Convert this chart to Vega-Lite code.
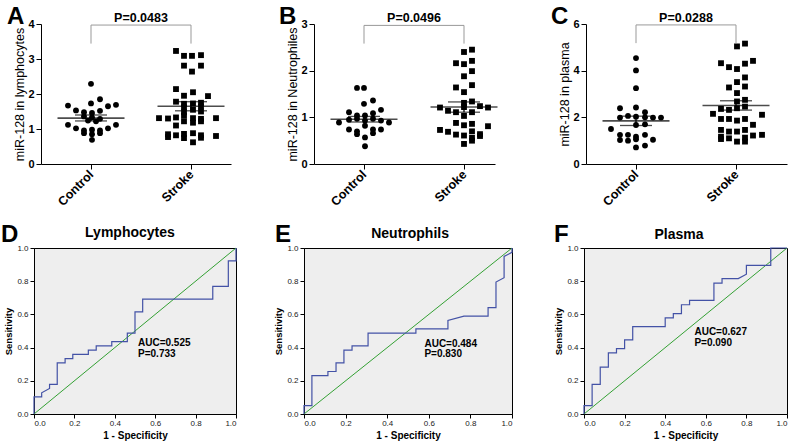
{
"$schema":"https://vega.github.io/schema/vega-lite/v6.json",
"padding":{"left":0,"top":5,"right":0,"bottom":0},
"bounds":"flush",
"spacing":224,
"config":{"view":{"stroke":null},"font":"Liberation Sans","axis":{"grid":false,"labelOverlap":false,"tickCount":12,"domainColor":"black","tickColor":"black","labelColor":"black","titleColor":"black","labelFont":"Liberation Sans","titleFont":"Liberation Sans"},"text":{"font":"Liberation Sans"}},
"datasets":{
"panels":[
{"panel":"A","letter":"A","p":"P=0.0483","top":3.97,"base":3.44},
{"panel":"B","letter":"B","p":"P=0.0496","top":2.97,"base":2.58},
{"panel":"C","letter":"C","p":"P=0.0288","top":5.96,"base":5.18},
{"panel":"D","letter":"D","name":"Lymphocytes"},
{"panel":"E","letter":"E","name":"Neutrophils"},
{"panel":"F","letter":"F","name":"Plasma"}
],
"summary":[
{"panel":"A","group":"Control","idx":1,"mean":1.31,"lo":1.23,"hi":1.40},
{"panel":"A","group":"Stroke","idx":2,"mean":1.65,"lo":1.52,"hi":1.78},
{"panel":"B","group":"Control","idx":1,"mean":0.96,"lo":0.90,"hi":1.02},
{"panel":"B","group":"Stroke","idx":2,"mean":1.22,"lo":1.11,"hi":1.33},
{"panel":"C","group":"Control","idx":1,"mean":1.85,"lo":1.65,"hi":2.05},
{"panel":"C","group":"Stroke","idx":2,"mean":2.51,"lo":2.31,"hi":2.71}
],
"dots":[
{"panel":"A","group":"Control","pos":1.00,"value":2.29},{"panel":"A","group":"Control","pos":1.09,"value":1.85},{"panel":"A","group":"Control","pos":0.77,"value":1.67},{"panel":"A","group":"Control","pos":1.00,"value":1.73},{"panel":"A","group":"Control","pos":1.17,"value":1.65},{"panel":"A","group":"Control","pos":1.25,"value":1.69},{"panel":"A","group":"Control","pos":0.85,"value":1.53},{"panel":"A","group":"Control","pos":0.93,"value":1.48},{"panel":"A","group":"Control","pos":1.01,"value":1.46},{"panel":"A","group":"Control","pos":1.09,"value":1.52},{"panel":"A","group":"Control","pos":0.93,"value":1.36},{"panel":"A","group":"Control","pos":1.01,"value":1.33},{"panel":"A","group":"Control","pos":1.09,"value":1.29},{"panel":"A","group":"Control","pos":0.97,"value":1.24},{"panel":"A","group":"Control","pos":1.05,"value":1.22},{"panel":"A","group":"Control","pos":0.77,"value":1.12},{"panel":"A","group":"Control","pos":0.85,"value":1.02},{"panel":"A","group":"Control","pos":0.93,"value":0.96},{"panel":"A","group":"Control","pos":1.01,"value":0.98},{"panel":"A","group":"Control","pos":1.09,"value":0.96},{"panel":"A","group":"Control","pos":1.17,"value":1.02},{"panel":"A","group":"Control","pos":1.25,"value":1.12},{"panel":"A","group":"Control","pos":0.93,"value":0.88},{"panel":"A","group":"Control","pos":1.09,"value":0.88},{"panel":"A","group":"Control","pos":1.01,"value":0.85},{"panel":"A","group":"Control","pos":1.01,"value":0.69},
{"panel":"A","group":"Stroke","pos":1.85,"value":3.23},{"panel":"A","group":"Stroke","pos":1.93,"value":3.09},{"panel":"A","group":"Stroke","pos":2.01,"value":3.09},{"panel":"A","group":"Stroke","pos":2.10,"value":3.11},{"panel":"A","group":"Stroke","pos":1.93,"value":2.81},{"panel":"A","group":"Stroke","pos":2.10,"value":2.81},{"panel":"A","group":"Stroke","pos":2.01,"value":2.64},
{"panel":"A","group":"Stroke","pos":1.85,"value":2.14},{"panel":"A","group":"Stroke","pos":2.02,"value":2.05},{"panel":"A","group":"Stroke","pos":1.93,"value":1.95},{"panel":"A","group":"Stroke","pos":2.17,"value":1.94},{"panel":"A","group":"Stroke","pos":1.85,"value":1.78},{"panel":"A","group":"Stroke","pos":1.93,"value":1.72},{"panel":"A","group":"Stroke","pos":2.02,"value":1.73},{"panel":"A","group":"Stroke","pos":2.10,"value":1.75},{"panel":"A","group":"Stroke","pos":1.93,"value":1.62},{"panel":"A","group":"Stroke","pos":2.10,"value":1.64},{"panel":"A","group":"Stroke","pos":2.02,"value":1.55},{"panel":"A","group":"Stroke","pos":2.10,"value":1.50},{"panel":"A","group":"Stroke","pos":1.93,"value":1.48},
{"panel":"A","group":"Stroke","pos":1.68,"value":1.31},{"panel":"A","group":"Stroke","pos":1.77,"value":1.30},{"panel":"A","group":"Stroke","pos":1.85,"value":1.33},{"panel":"A","group":"Stroke","pos":1.93,"value":1.38},{"panel":"A","group":"Stroke","pos":2.02,"value":1.31},{"panel":"A","group":"Stroke","pos":2.10,"value":1.29},{"panel":"A","group":"Stroke","pos":2.25,"value":1.31},{"panel":"A","group":"Stroke","pos":1.93,"value":1.22},{"panel":"A","group":"Stroke","pos":2.02,"value":1.18},{"panel":"A","group":"Stroke","pos":2.10,"value":1.22},{"panel":"A","group":"Stroke","pos":1.85,"value":1.10},
{"panel":"A","group":"Stroke","pos":1.77,"value":0.85},{"panel":"A","group":"Stroke","pos":1.85,"value":0.82},{"panel":"A","group":"Stroke","pos":1.93,"value":0.86},{"panel":"A","group":"Stroke","pos":2.02,"value":0.88},{"panel":"A","group":"Stroke","pos":2.10,"value":0.82},{"panel":"A","group":"Stroke","pos":2.25,"value":0.80},{"panel":"A","group":"Stroke","pos":1.77,"value":0.77},{"panel":"A","group":"Stroke","pos":1.93,"value":0.74},{"panel":"A","group":"Stroke","pos":2.10,"value":0.75},{"panel":"A","group":"Stroke","pos":2.02,"value":0.62},
{"panel":"B","group":"Control","pos":0.93,"value":1.63},{"panel":"B","group":"Control","pos":1.00,"value":1.63},{"panel":"B","group":"Control","pos":1.00,"value":1.29},{"panel":"B","group":"Control","pos":1.09,"value":1.36},{"panel":"B","group":"Control","pos":0.85,"value":1.11},{"panel":"B","group":"Control","pos":0.93,"value":1.04},{"panel":"B","group":"Control","pos":1.01,"value":1.04},{"panel":"B","group":"Control","pos":1.09,"value":1.09},{"panel":"B","group":"Control","pos":1.17,"value":1.16},{"panel":"B","group":"Control","pos":0.75,"value":0.89},{"panel":"B","group":"Control","pos":0.85,"value":0.95},{"panel":"B","group":"Control","pos":0.93,"value":0.97},{"panel":"B","group":"Control","pos":1.01,"value":0.93},{"panel":"B","group":"Control","pos":1.09,"value":0.97},{"panel":"B","group":"Control","pos":1.17,"value":0.93},{"panel":"B","group":"Control","pos":1.25,"value":0.89},{"panel":"B","group":"Control","pos":0.85,"value":0.74},{"panel":"B","group":"Control","pos":0.93,"value":0.70},{"panel":"B","group":"Control","pos":1.01,"value":0.82},{"panel":"B","group":"Control","pos":1.09,"value":0.74},{"panel":"B","group":"Control","pos":1.17,"value":0.74},{"panel":"B","group":"Control","pos":0.93,"value":0.64},{"panel":"B","group":"Control","pos":1.09,"value":0.66},{"panel":"B","group":"Control","pos":1.01,"value":0.57},{"panel":"B","group":"Control","pos":1.01,"value":0.38},
{"panel":"B","group":"Stroke","pos":2.00,"value":2.40},{"panel":"B","group":"Stroke","pos":2.08,"value":2.45},{"panel":"B","group":"Stroke","pos":1.92,"value":2.16},{"panel":"B","group":"Stroke","pos":2.00,"value":2.14},{"panel":"B","group":"Stroke","pos":2.08,"value":2.21},{"panel":"B","group":"Stroke","pos":2.00,"value":1.88},{"panel":"B","group":"Stroke","pos":2.08,"value":1.99},{"panel":"B","group":"Stroke","pos":1.92,"value":1.64},{"panel":"B","group":"Stroke","pos":2.00,"value":1.54},{"panel":"B","group":"Stroke","pos":2.08,"value":1.69},{"panel":"B","group":"Stroke","pos":2.00,"value":1.31},{"panel":"B","group":"Stroke","pos":2.08,"value":1.34},{"panel":"B","group":"Stroke","pos":1.76,"value":1.21},{"panel":"B","group":"Stroke","pos":1.84,"value":1.14},{"panel":"B","group":"Stroke","pos":1.92,"value":1.11},{"panel":"B","group":"Stroke","pos":2.00,"value":1.22},{"panel":"B","group":"Stroke","pos":2.08,"value":1.11},{"panel":"B","group":"Stroke","pos":2.16,"value":1.24},{"panel":"B","group":"Stroke","pos":2.24,"value":1.21},{"panel":"B","group":"Stroke","pos":2.00,"value":1.03},{"panel":"B","group":"Stroke","pos":1.92,"value":0.88},{"panel":"B","group":"Stroke","pos":2.00,"value":0.83},{"panel":"B","group":"Stroke","pos":2.08,"value":0.86},{"panel":"B","group":"Stroke","pos":1.76,"value":0.73},{"panel":"B","group":"Stroke","pos":1.84,"value":0.69},{"panel":"B","group":"Stroke","pos":1.92,"value":0.63},{"panel":"B","group":"Stroke","pos":2.00,"value":0.61},{"panel":"B","group":"Stroke","pos":2.08,"value":0.70},{"panel":"B","group":"Stroke","pos":2.16,"value":0.64},{"panel":"B","group":"Stroke","pos":2.24,"value":0.81},{"panel":"B","group":"Stroke","pos":2.08,"value":0.56},{"panel":"B","group":"Stroke","pos":2.16,"value":0.60},{"panel":"B","group":"Stroke","pos":2.00,"value":0.43},{"panel":"B","group":"Stroke","pos":2.08,"value":0.50},
{"panel":"C","group":"Control","pos":1.00,"value":4.54},{"panel":"C","group":"Control","pos":1.00,"value":4.01},{"panel":"C","group":"Control","pos":1.00,"value":3.25},{"panel":"C","group":"Control","pos":0.84,"value":2.39},{"panel":"C","group":"Control","pos":1.00,"value":2.42},{"panel":"C","group":"Control","pos":1.09,"value":2.22},{"panel":"C","group":"Control","pos":0.84,"value":1.99},{"panel":"C","group":"Control","pos":0.92,"value":2.06},{"panel":"C","group":"Control","pos":1.00,"value":2.03},{"panel":"C","group":"Control","pos":1.09,"value":2.00},{"panel":"C","group":"Control","pos":1.17,"value":1.99},{"panel":"C","group":"Control","pos":1.25,"value":1.99},{"panel":"C","group":"Control","pos":1.09,"value":1.70},{"panel":"C","group":"Control","pos":1.00,"value":1.67},{"panel":"C","group":"Control","pos":0.75,"value":1.50},{"panel":"C","group":"Control","pos":0.84,"value":1.25},{"panel":"C","group":"Control","pos":0.92,"value":1.25},{"panel":"C","group":"Control","pos":1.00,"value":1.17},{"panel":"C","group":"Control","pos":1.09,"value":1.25},{"panel":"C","group":"Control","pos":0.84,"value":1.03},{"panel":"C","group":"Control","pos":0.92,"value":1.00},{"panel":"C","group":"Control","pos":1.00,"value":1.06},{"panel":"C","group":"Control","pos":1.17,"value":1.04},{"panel":"C","group":"Control","pos":1.00,"value":0.71},{"panel":"C","group":"Control","pos":1.09,"value":0.79},
{"panel":"C","group":"Stroke","pos":2.01,"value":5.04},{"panel":"C","group":"Stroke","pos":2.09,"value":5.16},{"panel":"C","group":"Stroke","pos":1.85,"value":4.32},{"panel":"C","group":"Stroke","pos":1.93,"value":4.15},{"panel":"C","group":"Stroke","pos":2.01,"value":4.07},{"panel":"C","group":"Stroke","pos":2.09,"value":4.30},{"panel":"C","group":"Stroke","pos":2.17,"value":4.42},{"panel":"C","group":"Stroke","pos":2.09,"value":3.71},{"panel":"C","group":"Stroke","pos":2.01,"value":3.51},{"panel":"C","group":"Stroke","pos":2.09,"value":3.32},{"panel":"C","group":"Stroke","pos":1.93,"value":3.28},{"panel":"C","group":"Stroke","pos":2.01,"value":3.04},{"panel":"C","group":"Stroke","pos":2.01,"value":2.68},{"panel":"C","group":"Stroke","pos":2.09,"value":2.75},{"panel":"C","group":"Stroke","pos":1.77,"value":2.15},{"panel":"C","group":"Stroke","pos":1.85,"value":2.36},{"panel":"C","group":"Stroke","pos":1.93,"value":2.32},{"panel":"C","group":"Stroke","pos":2.01,"value":2.39},{"panel":"C","group":"Stroke","pos":2.09,"value":2.46},{"panel":"C","group":"Stroke","pos":2.26,"value":2.11},{"panel":"C","group":"Stroke","pos":1.85,"value":1.93},{"panel":"C","group":"Stroke","pos":1.93,"value":1.93},{"panel":"C","group":"Stroke","pos":2.01,"value":1.86},{"panel":"C","group":"Stroke","pos":2.09,"value":1.93},{"panel":"C","group":"Stroke","pos":2.17,"value":1.68},{"panel":"C","group":"Stroke","pos":1.85,"value":1.46},{"panel":"C","group":"Stroke","pos":1.93,"value":1.39},{"panel":"C","group":"Stroke","pos":2.01,"value":1.39},{"panel":"C","group":"Stroke","pos":2.09,"value":1.46},{"panel":"C","group":"Stroke","pos":2.17,"value":1.22},{"panel":"C","group":"Stroke","pos":1.85,"value":1.17},{"panel":"C","group":"Stroke","pos":1.93,"value":1.10},{"panel":"C","group":"Stroke","pos":2.01,"value":0.96},{"panel":"C","group":"Stroke","pos":2.09,"value":0.96},{"panel":"C","group":"Stroke","pos":2.26,"value":1.25},{"panel":"C","group":"Stroke","pos":1.85,"value":1.07},{"panel":"C","group":"Stroke","pos":2.09,"value":1.13}
],
"roc":[
{"panel":"D","step":1,"fpr":0,"tpr":0},{"panel":"D","step":2,"fpr":0,"tpr":0.103},{"panel":"D","step":3,"fpr":0.038,"tpr":0.103},{"panel":"D","step":4,"fpr":0.038,"tpr":0.128},{"panel":"D","step":5,"fpr":0.077,"tpr":0.154},{"panel":"D","step":6,"fpr":0.077,"tpr":0.179},{"panel":"D","step":7,"fpr":0.115,"tpr":0.179},{"panel":"D","step":8,"fpr":0.115,"tpr":0.308},{"panel":"D","step":9,"fpr":0.154,"tpr":0.308},{"panel":"D","step":10,"fpr":0.154,"tpr":0.333},{"panel":"D","step":11,"fpr":0.192,"tpr":0.333},{"panel":"D","step":12,"fpr":0.192,"tpr":0.359},{"panel":"D","step":13,"fpr":0.269,"tpr":0.359},{"panel":"D","step":14,"fpr":0.269,"tpr":0.385},{"panel":"D","step":15,"fpr":0.308,"tpr":0.385},{"panel":"D","step":16,"fpr":0.308,"tpr":0.410},{"panel":"D","step":17,"fpr":0.385,"tpr":0.410},{"panel":"D","step":18,"fpr":0.385,"tpr":0.436},{"panel":"D","step":19,"fpr":0.462,"tpr":0.436},{"panel":"D","step":20,"fpr":0.462,"tpr":0.487},{"panel":"D","step":21,"fpr":0.5,"tpr":0.487},{"panel":"D","step":22,"fpr":0.5,"tpr":0.615},{"panel":"D","step":23,"fpr":0.538,"tpr":0.615},{"panel":"D","step":24,"fpr":0.538,"tpr":0.692},{"panel":"D","step":25,"fpr":0.885,"tpr":0.692},{"panel":"D","step":26,"fpr":0.885,"tpr":0.769},{"panel":"D","step":27,"fpr":0.962,"tpr":0.769},{"panel":"D","step":28,"fpr":0.962,"tpr":0.923},{"panel":"D","step":29,"fpr":1,"tpr":0.923},{"panel":"D","step":30,"fpr":1,"tpr":1},
{"panel":"E","step":1,"fpr":0,"tpr":0},{"panel":"E","step":2,"fpr":0,"tpr":0.051},{"panel":"E","step":3,"fpr":0.038,"tpr":0.051},{"panel":"E","step":4,"fpr":0.038,"tpr":0.231},{"panel":"E","step":5,"fpr":0.115,"tpr":0.231},{"panel":"E","step":6,"fpr":0.115,"tpr":0.256},{"panel":"E","step":7,"fpr":0.154,"tpr":0.256},{"panel":"E","step":8,"fpr":0.154,"tpr":0.308},{"panel":"E","step":9,"fpr":0.192,"tpr":0.308},{"panel":"E","step":10,"fpr":0.192,"tpr":0.385},{"panel":"E","step":11,"fpr":0.231,"tpr":0.385},{"panel":"E","step":12,"fpr":0.231,"tpr":0.410},{"panel":"E","step":13,"fpr":0.308,"tpr":0.410},{"panel":"E","step":14,"fpr":0.308,"tpr":0.487},{"panel":"E","step":15,"fpr":0.538,"tpr":0.487},{"panel":"E","step":16,"fpr":0.538,"tpr":0.513},{"panel":"E","step":17,"fpr":0.692,"tpr":0.513},{"panel":"E","step":18,"fpr":0.692,"tpr":0.564},{"panel":"E","step":19,"fpr":0.769,"tpr":0.590},{"panel":"E","step":20,"fpr":0.885,"tpr":0.590},{"panel":"E","step":21,"fpr":0.885,"tpr":0.641},{"panel":"E","step":22,"fpr":0.923,"tpr":0.641},{"panel":"E","step":23,"fpr":0.923,"tpr":0.795},{"panel":"E","step":24,"fpr":0.962,"tpr":0.821},{"panel":"E","step":25,"fpr":0.962,"tpr":0.949},{"panel":"E","step":26,"fpr":1,"tpr":0.974},{"panel":"E","step":27,"fpr":1,"tpr":1},
{"panel":"F","step":1,"fpr":0,"tpr":0},{"panel":"F","step":2,"fpr":0,"tpr":0.051},{"panel":"F","step":3,"fpr":0.04,"tpr":0.051},{"panel":"F","step":4,"fpr":0.04,"tpr":0.179},{"panel":"F","step":5,"fpr":0.08,"tpr":0.179},{"panel":"F","step":6,"fpr":0.08,"tpr":0.282},{"panel":"F","step":7,"fpr":0.12,"tpr":0.282},{"panel":"F","step":8,"fpr":0.12,"tpr":0.368},{"panel":"F","step":9,"fpr":0.16,"tpr":0.368},{"panel":"F","step":10,"fpr":0.16,"tpr":0.394},{"panel":"F","step":11,"fpr":0.2,"tpr":0.394},{"panel":"F","step":12,"fpr":0.2,"tpr":0.447},{"panel":"F","step":13,"fpr":0.24,"tpr":0.447},{"panel":"F","step":14,"fpr":0.24,"tpr":0.526},{"panel":"F","step":15,"fpr":0.4,"tpr":0.526},{"panel":"F","step":16,"fpr":0.4,"tpr":0.579},{"panel":"F","step":17,"fpr":0.44,"tpr":0.579},{"panel":"F","step":18,"fpr":0.44,"tpr":0.605},{"panel":"F","step":19,"fpr":0.48,"tpr":0.605},{"panel":"F","step":20,"fpr":0.48,"tpr":0.658},{"panel":"F","step":21,"fpr":0.52,"tpr":0.658},{"panel":"F","step":22,"fpr":0.52,"tpr":0.684},{"panel":"F","step":23,"fpr":0.64,"tpr":0.684},{"panel":"F","step":24,"fpr":0.64,"tpr":0.789},{"panel":"F","step":25,"fpr":0.68,"tpr":0.789},{"panel":"F","step":26,"fpr":0.68,"tpr":0.816},{"panel":"F","step":27,"fpr":0.76,"tpr":0.816},{"panel":"F","step":28,"fpr":0.8,"tpr":0.842},{"panel":"F","step":29,"fpr":0.8,"tpr":0.895},{"panel":"F","step":30,"fpr":0.92,"tpr":0.895},{"panel":"F","step":31,"fpr":0.92,"tpr":1},{"panel":"F","step":32,"fpr":1,"tpr":1}
],
"stats":[
{"panel":"D","label":"AUC=0.525","fpr":0.515,"tpr":0.425},{"panel":"D","label":"P=0.733","fpr":0.515,"tpr":0.36},
{"panel":"E","label":"AUC=0.484","fpr":0.579,"tpr":0.422},{"panel":"E","label":"P=0.830","fpr":0.579,"tpr":0.359},
{"panel":"F","label":"AUC=0.627","fpr":0.544,"tpr":0.494},{"panel":"F","label":"P=0.090","fpr":0.544,"tpr":0.43}
]
},
"vconcat":[
{"bounds":"flush","spacing":6,"hconcat":[
 {"width":1,"height":140,"data":{"name":"panels"},"transform":[{"filter":"datum.panel==='A'"}],"mark":{"type":"point","opacity":0},"encoding":{}},
 {"bounds":"flush","spacing":83,"hconcat":[
  {"width":190,"height":140,"layer":[
   {"data":{"name":"dots"},"transform":[{"filter":"datum.panel==='A'"}],"mark":{"type":"point","filled":true,"color":"black","opacity":1,"size":34},
    "encoding":{"x":{"field":"pos","type":"quantitative","scale":{"domain":[0.5,2.4],"nice":false,"zero":false},"axis":{"values":[1,2],"tickCount":12,"labelExpr":"datum.value==1?'Control':'Stroke'","labelAngle":-45,"labelAlign":"right","labelBaseline":"middle","labelFontSize":12.5,"labelFontWeight":"bold","tickSize":5,"labelPadding":3,"labelOverlap":false,"title":null}},
     "y":{"field":"value","type":"quantitative","scale":{"domain":[0,4],"nice":false},"axis":{"values":[0,1,2,3,4],"format":"d","tickCount":12,"labelOverlap":false,"labelFontSize":11,"labelFontWeight":"bold","tickSize":5,"labelPadding":2,"title":"miR-128 in lymphocytes","titleFontSize":12.5,"titleFontWeight":"normal","titlePadding":1}},
     "shape":{"field":"group","type":"nominal","scale":{"domain":["Control","Stroke"],"range":["circle","square"]},"legend":null}}},
   {"data":{"name":"summary"},"transform":[{"filter":"datum.panel==='A'"}],"mark":{"type":"tick","orient":"horizontal","size":67,"thickness":1.6,"color":"black"},"encoding":{"x":{"field":"idx","type":"quantitative"},"y":{"field":"mean","type":"quantitative"}}},
   {"data":{"name":"summary"},"transform":[{"filter":"datum.panel==='A'"}],"mark":{"type":"tick","orient":"horizontal","size":32,"thickness":1.3,"color":"black"},"encoding":{"x":{"field":"idx","type":"quantitative"},"y":{"field":"lo","type":"quantitative"}}},
   {"data":{"name":"summary"},"transform":[{"filter":"datum.panel==='A'"}],"mark":{"type":"tick","orient":"horizontal","size":32,"thickness":1.3,"color":"black"},"encoding":{"x":{"field":"idx","type":"quantitative"},"y":{"field":"hi","type":"quantitative"}}},
   {"data":{"name":"summary"},"transform":[{"filter":"datum.panel==='A'"}],"mark":{"type":"rule","strokeWidth":1.3,"color":"black"},"encoding":{"x":{"field":"idx","type":"quantitative"},"y":{"field":"lo","type":"quantitative"},"y2":{"field":"hi"}}},
   {"data":{"name":"panels"},"transform":[{"filter":"datum.panel==='A'"}],"mark":{"type":"rule","color":"#999999","strokeWidth":1},"encoding":{"x":{"datum":1},"x2":{"datum":2},"y":{"field":"top","type":"quantitative"}}},
   {"data":{"name":"panels"},"transform":[{"filter":"datum.panel==='A'"}],"mark":{"type":"rule","color":"#999999","strokeWidth":1},"encoding":{"x":{"datum":1},"y":{"field":"base","type":"quantitative"},"y2":{"field":"top"}}},
   {"data":{"name":"panels"},"transform":[{"filter":"datum.panel==='A'"}],"mark":{"type":"rule","color":"#999999","strokeWidth":1},"encoding":{"x":{"datum":2},"y":{"field":"base","type":"quantitative"},"y2":{"field":"top"}}},
   {"data":{"name":"panels"},"transform":[{"filter":"datum.panel==='A'"}],"mark":{"type":"text","fontSize":12.5,"fontWeight":"bold","baseline":"alphabetic","dy":-3,"color":"black"},"encoding":{"x":{"datum":1.5},"y":{"field":"top","type":"quantitative"},"text":{"field":"p"}}},
   {"data":{"name":"panels"},"transform":[{"filter":"datum.panel==='A'"}],"mark":{"type":"text","fontSize":24,"fontWeight":"bold","align":"left","baseline":"alphabetic","color":"black"},"encoding":{"x":{"datum":0.16},"y":{"datum":4},"text":{"field":"letter"}}}
  ]},
  {"bounds":"flush","spacing":91,"hconcat":[
   {"width":181,"height":140,"layer":[
    {"data":{"name":"dots"},"transform":[{"filter":"datum.panel==='B'"}],"mark":{"type":"point","filled":true,"color":"black","opacity":1,"size":34},
     "encoding":{"x":{"field":"pos","type":"quantitative","scale":{"domain":[0.5,2.31],"nice":false,"zero":false},"axis":{"values":[1,2],"tickCount":12,"labelExpr":"datum.value==1?'Control':'Stroke'","labelAngle":-45,"labelAlign":"right","labelBaseline":"middle","labelFontSize":12.5,"labelFontWeight":"bold","tickSize":5,"labelPadding":3,"labelOverlap":false,"title":null}},
      "y":{"field":"value","type":"quantitative","scale":{"domain":[0,3],"nice":false},"axis":{"values":[0,1,2,3],"format":"d","tickCount":12,"labelOverlap":false,"labelFontSize":11,"labelFontWeight":"bold","tickSize":5,"labelPadding":2,"title":"miR-128 in Neutrophiles","titleFontSize":12.5,"titleFontWeight":"normal","titlePadding":1}},
      "shape":{"field":"group","type":"nominal","scale":{"domain":["Control","Stroke"],"range":["circle","square"]},"legend":null}}},
    {"data":{"name":"summary"},"transform":[{"filter":"datum.panel==='B'"}],"mark":{"type":"tick","orient":"horizontal","size":67,"thickness":1.6,"color":"black"},"encoding":{"x":{"field":"idx","type":"quantitative"},"y":{"field":"mean","type":"quantitative"}}},
    {"data":{"name":"summary"},"transform":[{"filter":"datum.panel==='B'"}],"mark":{"type":"tick","orient":"horizontal","size":32,"thickness":1.3,"color":"black"},"encoding":{"x":{"field":"idx","type":"quantitative"},"y":{"field":"lo","type":"quantitative"}}},
    {"data":{"name":"summary"},"transform":[{"filter":"datum.panel==='B'"}],"mark":{"type":"tick","orient":"horizontal","size":32,"thickness":1.3,"color":"black"},"encoding":{"x":{"field":"idx","type":"quantitative"},"y":{"field":"hi","type":"quantitative"}}},
    {"data":{"name":"summary"},"transform":[{"filter":"datum.panel==='B'"}],"mark":{"type":"rule","strokeWidth":1.3,"color":"black"},"encoding":{"x":{"field":"idx","type":"quantitative"},"y":{"field":"lo","type":"quantitative"},"y2":{"field":"hi"}}},
    {"data":{"name":"panels"},"transform":[{"filter":"datum.panel==='B'"}],"mark":{"type":"rule","color":"#999999","strokeWidth":1},"encoding":{"x":{"datum":1},"x2":{"datum":2},"y":{"field":"top","type":"quantitative"}}},
    {"data":{"name":"panels"},"transform":[{"filter":"datum.panel==='B'"}],"mark":{"type":"rule","color":"#999999","strokeWidth":1},"encoding":{"x":{"datum":1},"y":{"field":"base","type":"quantitative"},"y2":{"field":"top"}}},
    {"data":{"name":"panels"},"transform":[{"filter":"datum.panel==='B'"}],"mark":{"type":"rule","color":"#999999","strokeWidth":1},"encoding":{"x":{"datum":2},"y":{"field":"base","type":"quantitative"},"y2":{"field":"top"}}},
    {"data":{"name":"panels"},"transform":[{"filter":"datum.panel==='B'"}],"mark":{"type":"text","fontSize":12.5,"fontWeight":"bold","baseline":"alphabetic","dy":-3,"color":"black"},"encoding":{"x":{"datum":1.5},"y":{"field":"top","type":"quantitative"},"text":{"field":"p"}}},
    {"data":{"name":"panels"},"transform":[{"filter":"datum.panel==='B'"}],"mark":{"type":"text","fontSize":24,"fontWeight":"bold","align":"left","baseline":"alphabetic","color":"black"},"encoding":{"x":{"datum":0.15},"y":{"datum":3},"text":{"field":"letter"}}}
   ]},
   {"width":201,"height":140,"layer":[
    {"data":{"name":"dots"},"transform":[{"filter":"datum.panel==='C'"}],"mark":{"type":"point","filled":true,"color":"black","opacity":1,"size":34},
     "encoding":{"x":{"field":"pos","type":"quantitative","scale":{"domain":[0.5,2.51],"nice":false,"zero":false},"axis":{"values":[1,2],"tickCount":12,"labelExpr":"datum.value==1?'Control':'Stroke'","labelAngle":-45,"labelAlign":"right","labelBaseline":"middle","labelFontSize":12.5,"labelFontWeight":"bold","tickSize":5,"labelPadding":3,"labelOverlap":false,"title":null}},
      "y":{"field":"value","type":"quantitative","scale":{"domain":[0,6],"nice":false},"axis":{"values":[0,2,4,6],"format":"d","tickCount":12,"labelOverlap":false,"labelFontSize":11,"labelFontWeight":"bold","tickSize":5,"labelPadding":2,"title":"miR-128 in plasma","titleFontSize":12.5,"titleFontWeight":"normal","titlePadding":1}},
      "shape":{"field":"group","type":"nominal","scale":{"domain":["Control","Stroke"],"range":["circle","square"]},"legend":null}}},
    {"data":{"name":"summary"},"transform":[{"filter":"datum.panel==='C'"}],"mark":{"type":"tick","orient":"horizontal","size":67,"thickness":1.6,"color":"black"},"encoding":{"x":{"field":"idx","type":"quantitative"},"y":{"field":"mean","type":"quantitative"}}},
    {"data":{"name":"summary"},"transform":[{"filter":"datum.panel==='C'"}],"mark":{"type":"tick","orient":"horizontal","size":32,"thickness":1.3,"color":"black"},"encoding":{"x":{"field":"idx","type":"quantitative"},"y":{"field":"lo","type":"quantitative"}}},
    {"data":{"name":"summary"},"transform":[{"filter":"datum.panel==='C'"}],"mark":{"type":"tick","orient":"horizontal","size":32,"thickness":1.3,"color":"black"},"encoding":{"x":{"field":"idx","type":"quantitative"},"y":{"field":"hi","type":"quantitative"}}},
    {"data":{"name":"summary"},"transform":[{"filter":"datum.panel==='C'"}],"mark":{"type":"rule","strokeWidth":1.3,"color":"black"},"encoding":{"x":{"field":"idx","type":"quantitative"},"y":{"field":"lo","type":"quantitative"},"y2":{"field":"hi"}}},
    {"data":{"name":"panels"},"transform":[{"filter":"datum.panel==='C'"}],"mark":{"type":"rule","color":"#999999","strokeWidth":1},"encoding":{"x":{"datum":1},"x2":{"datum":2},"y":{"field":"top","type":"quantitative"}}},
    {"data":{"name":"panels"},"transform":[{"filter":"datum.panel==='C'"}],"mark":{"type":"rule","color":"#999999","strokeWidth":1},"encoding":{"x":{"datum":1},"y":{"field":"base","type":"quantitative"},"y2":{"field":"top"}}},
    {"data":{"name":"panels"},"transform":[{"filter":"datum.panel==='C'"}],"mark":{"type":"rule","color":"#999999","strokeWidth":1},"encoding":{"x":{"datum":2},"y":{"field":"base","type":"quantitative"},"y2":{"field":"top"}}},
    {"data":{"name":"panels"},"transform":[{"filter":"datum.panel==='C'"}],"mark":{"type":"text","fontSize":12.5,"fontWeight":"bold","baseline":"alphabetic","dy":-3,"color":"black"},"encoding":{"x":{"datum":1.5},"y":{"field":"top","type":"quantitative"},"text":{"field":"p"}}},
    {"data":{"name":"panels"},"transform":[{"filter":"datum.panel==='C'"}],"mark":{"type":"text","fontSize":24,"fontWeight":"bold","align":"left","baseline":"alphabetic","color":"black"},"encoding":{"x":{"datum":0.15},"y":{"datum":6},"text":{"field":"letter"}}}
   ]}
  ]}
 ]}
]},
{"bounds":"flush","spacing":68,"hconcat":[
 {"width":202,"height":166,"view":{"fill":"#eeeeee","stroke":"black","strokeWidth":1},"layer":[
  {"data":{"name":"panels"},"transform":[{"filter":"datum.panel==='D'"}],"mark":{"type":"rule","color":"#33a033","strokeWidth":1},
   "encoding":{"x":{"datum":0,"type":"quantitative","scale":{"domain":[0,1],"nice":false},"axis":{"values":[0,0.2,0.4,0.6,0.8,1],"tickCount":12,"format":".1f","labelOverlap":false,"labelFontSize":8,"labelColor":"#222222","tickSize":4,"labelPadding":1,"title":"1 - Specificity","titleFontSize":10,"titleFontWeight":"bold","titlePadding":3}},
    "y":{"datum":0,"type":"quantitative","scale":{"domain":[0,1],"nice":false},"axis":{"values":[0,0.2,0.4,0.6,0.8,1],"tickCount":12,"format":".1f","labelOverlap":false,"labelFontSize":8,"labelColor":"#222222","tickSize":4,"labelPadding":2,"title":"Sensitivity","titleFontSize":9.5,"titleFontWeight":"bold","titlePadding":3}},
    "x2":{"datum":1},"y2":{"datum":1}}},
  {"data":{"name":"roc"},"transform":[{"filter":"datum.panel==='D'"}],"mark":{"type":"line","color":"#4352a6","strokeWidth":1.2},"encoding":{"x":{"field":"fpr","type":"quantitative"},"y":{"field":"tpr","type":"quantitative"},"order":{"field":"step","type":"quantitative"}}},
  {"data":{"name":"stats"},"transform":[{"filter":"datum.panel==='D'"}],"mark":{"type":"text","align":"left","baseline":"middle","fontSize":10,"fontWeight":"bold","color":"black"},"encoding":{"x":{"field":"fpr","type":"quantitative"},"y":{"field":"tpr","type":"quantitative"},"text":{"field":"label"}}},
  {"data":{"name":"panels"},"transform":[{"filter":"datum.panel==='D'"}],"mark":{"type":"text","align":"center","baseline":"alphabetic","fontSize":14,"fontWeight":"bold","color":"black"},"encoding":{"x":{"datum":0.475},"y":{"datum":1.066},"text":{"field":"name"}}},
  {"data":{"name":"panels"},"transform":[{"filter":"datum.panel==='D'"}],"mark":{"type":"text","align":"left","baseline":"alphabetic","fontSize":24,"fontWeight":"bold","color":"black"},"encoding":{"x":{"datum":-0.163},"y":{"datum":1.036},"text":{"field":"letter"}}}
 ]},
 {"bounds":"flush","spacing":72,"hconcat":[
  {"width":208,"height":166,"view":{"fill":"#eeeeee","stroke":"black","strokeWidth":1},"layer":[
   {"data":{"name":"panels"},"transform":[{"filter":"datum.panel==='E'"}],"mark":{"type":"rule","color":"#33a033","strokeWidth":1},
    "encoding":{"x":{"datum":0,"type":"quantitative","scale":{"domain":[0,1],"nice":false},"axis":{"values":[0,0.2,0.4,0.6,0.8,1],"tickCount":12,"format":".1f","labelOverlap":false,"labelFontSize":8,"labelColor":"#222222","tickSize":4,"labelPadding":1,"title":"1 - Specificity","titleFontSize":10,"titleFontWeight":"bold","titlePadding":3}},
     "y":{"datum":0,"type":"quantitative","scale":{"domain":[0,1],"nice":false},"axis":{"values":[0,0.2,0.4,0.6,0.8,1],"tickCount":12,"format":".1f","labelOverlap":false,"labelFontSize":8,"labelColor":"#222222","tickSize":4,"labelPadding":2,"title":"Sensitivity","titleFontSize":9.5,"titleFontWeight":"bold","titlePadding":3}},
     "x2":{"datum":1},"y2":{"datum":1}}},
   {"data":{"name":"roc"},"transform":[{"filter":"datum.panel==='E'"}],"mark":{"type":"line","color":"#4352a6","strokeWidth":1.2},"encoding":{"x":{"field":"fpr","type":"quantitative"},"y":{"field":"tpr","type":"quantitative"},"order":{"field":"step","type":"quantitative"}}},
   {"data":{"name":"stats"},"transform":[{"filter":"datum.panel==='E'"}],"mark":{"type":"text","align":"left","baseline":"middle","fontSize":10,"fontWeight":"bold","color":"black"},"encoding":{"x":{"field":"fpr","type":"quantitative"},"y":{"field":"tpr","type":"quantitative"},"text":{"field":"label"}}},
   {"data":{"name":"panels"},"transform":[{"filter":"datum.panel==='E'"}],"mark":{"type":"text","align":"center","baseline":"alphabetic","fontSize":14,"fontWeight":"bold","color":"black"},"encoding":{"x":{"datum":0.51},"y":{"datum":1.06},"text":{"field":"name"}}},
   {"data":{"name":"panels"},"transform":[{"filter":"datum.panel==='E'"}],"mark":{"type":"text","align":"left","baseline":"alphabetic","fontSize":24,"fontWeight":"bold","color":"black"},"encoding":{"x":{"datum":-0.139},"y":{"datum":1.036},"text":{"field":"letter"}}}
  ]},
  {"width":203,"height":166,"view":{"fill":"#eeeeee","stroke":"black","strokeWidth":1},"layer":[
   {"data":{"name":"panels"},"transform":[{"filter":"datum.panel==='F'"}],"mark":{"type":"rule","color":"#33a033","strokeWidth":1},
    "encoding":{"x":{"datum":0,"type":"quantitative","scale":{"domain":[0,1],"nice":false},"axis":{"values":[0,0.2,0.4,0.6,0.8,1],"tickCount":12,"format":".1f","labelOverlap":false,"labelFontSize":8,"labelColor":"#222222","tickSize":4,"labelPadding":1,"title":"1 - Specificity","titleFontSize":10,"titleFontWeight":"bold","titlePadding":3}},
     "y":{"datum":0,"type":"quantitative","scale":{"domain":[0,1],"nice":false},"axis":{"values":[0,0.2,0.4,0.6,0.8,1],"tickCount":12,"format":".1f","labelOverlap":false,"labelFontSize":8,"labelColor":"#222222","tickSize":4,"labelPadding":2,"title":"Sensitivity","titleFontSize":9.5,"titleFontWeight":"bold","titlePadding":3}},
     "x2":{"datum":1},"y2":{"datum":1}}},
   {"data":{"name":"roc"},"transform":[{"filter":"datum.panel==='F'"}],"mark":{"type":"line","color":"#4352a6","strokeWidth":1.2},"encoding":{"x":{"field":"fpr","type":"quantitative"},"y":{"field":"tpr","type":"quantitative"},"order":{"field":"step","type":"quantitative"}}},
   {"data":{"name":"stats"},"transform":[{"filter":"datum.panel==='F'"}],"mark":{"type":"text","align":"left","baseline":"middle","fontSize":10,"fontWeight":"bold","color":"black"},"encoding":{"x":{"field":"fpr","type":"quantitative"},"y":{"field":"tpr","type":"quantitative"},"text":{"field":"label"}}},
   {"data":{"name":"panels"},"transform":[{"filter":"datum.panel==='F'"}],"mark":{"type":"text","align":"center","baseline":"alphabetic","fontSize":14,"fontWeight":"bold","color":"black"},"encoding":{"x":{"datum":0.468},"y":{"datum":1.054},"text":{"field":"name"}}},
   {"data":{"name":"panels"},"transform":[{"filter":"datum.panel==='F'"}],"mark":{"type":"text","align":"left","baseline":"alphabetic","fontSize":24,"fontWeight":"bold","color":"black"},"encoding":{"x":{"datum":-0.148},"y":{"datum":1.036},"text":{"field":"letter"}}}
  ]}
 ]}
]}
]
}
